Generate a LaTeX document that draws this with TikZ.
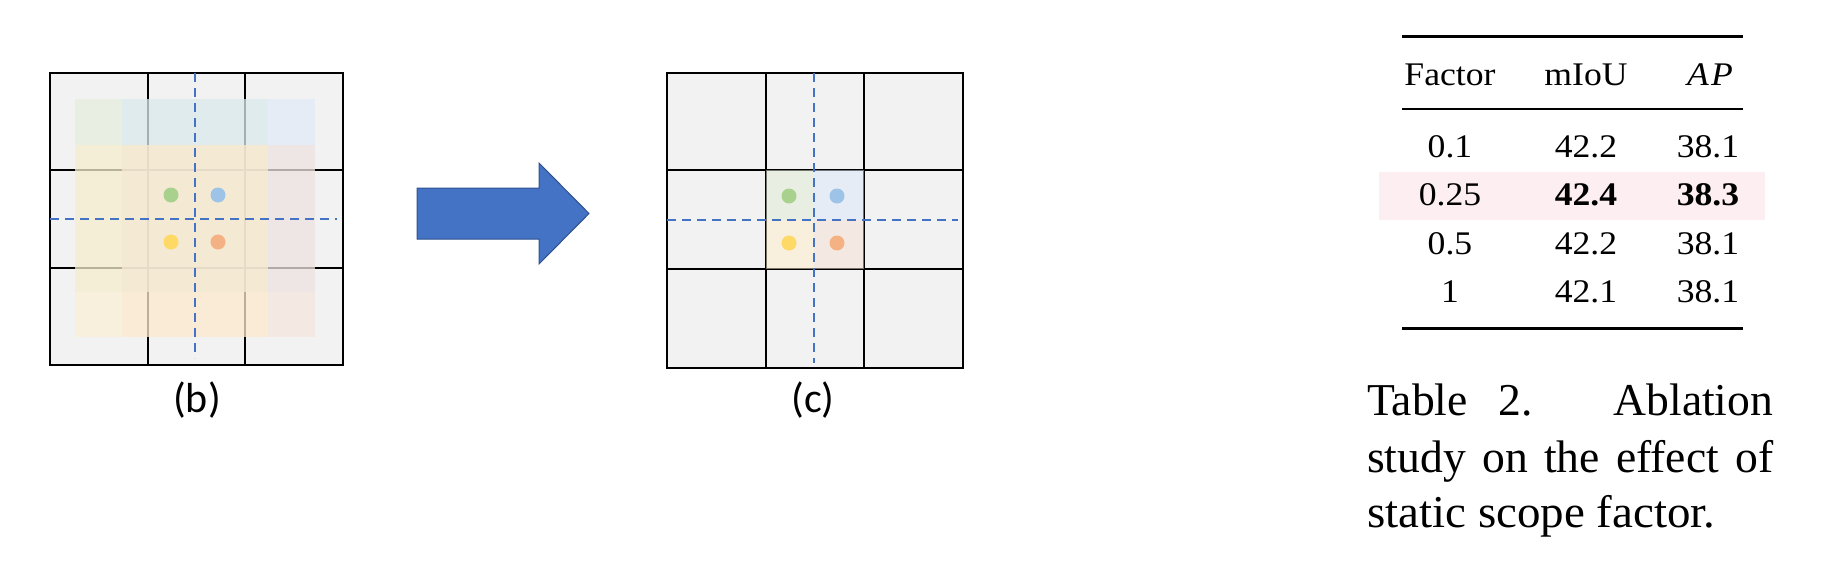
\documentclass[tikz,border=0pt]{standalone}
\usepackage{fontspec}
\usepackage{graphicx}
\setmainfont{Liberation Serif}
\newfontfamily\carlitofont{Carlito}
\definecolor{bggray}{HTML}{F2F2F2}
\definecolor{dblue}{HTML}{4472C4}
\definecolor{darrow}{HTML}{2F528F}
\definecolor{sG}{HTML}{E0EED4}
\definecolor{sB}{HTML}{DAE8F8}
\definecolor{sY}{HTML}{FEEECA}
\definecolor{sO}{HTML}{F6E2D4}
\definecolor{dG}{HTML}{A9D18E}
\definecolor{dB}{HTML}{9DC3E6}
\definecolor{dY}{HTML}{FFD966}
\definecolor{dO}{HTML}{F4B183}
\definecolor{pinkrow}{HTML}{FDEEF2}
\newcommand{\tabtxt}[1]{\scalebox{1.08}[1]{#1}}
\begin{document}
\begin{tikzpicture}[x=1pt,y=-1pt,
  gridline/.style={line width=2.6pt, draw=black},
  dashline/.style={draw=dblue, line width=2.6pt, dash pattern=on 9pt off 6pt},
  scopebox/.style={fill=#1, fill opacity=0.5},
  dot/.style={circle, inner sep=0pt, minimum size=15pt, fill=#1},
  bigarrow/.style={fill=dblue, draw=darrow, line width=1pt},
  tab/.style={anchor=base, font=\fontsize{33}{40}\selectfont, inner sep=0pt},
  capt/.style={anchor=base west, font=\fontsize{45.6}{56}\selectfont, inner sep=0pt},
  lab/.style={anchor=base, font=\carlitofont\fontsize{42}{48}\selectfont, inner sep=0pt},
  toprule/.style={line width=3pt},
  midrule/.style={line width=2pt}]
\useasboundingbox (0,0) rectangle (1822,570);

% ---------- grid (b) ----------
\fill[bggray] (50,73) rectangle (343,365);
\draw[gridline] (148,73) -- (148,365) (245,73) -- (245,365)
                (50,170) -- (343,170) (50,268) -- (343,268);
\draw[gridline] (50,73) rectangle (343,365);
\fill[scopebox=sG] (75,99) rectangle (268,292);
\fill[scopebox=sB] (122,99) rectangle (315,292);
\fill[scopebox=sO] (122,145) rectangle (315,337);
\fill[scopebox=sY] (75,145) rectangle (268,337);
\coordinate (bvt) at (195,73);
\coordinate (bvb) at (195,358);
\coordinate (bhl) at (50,219);
\coordinate (bhr) at (337,219);
\draw[dashline] (bvt) -- (bvb);
\draw[dashline] (bhl) -- (bhr);
\node[dot=dG] (bG) at (171,195) {};
\node[dot=dB] (bB) at (218,195) {};
\node[dot=dY] (bY) at (171,242) {};
\node[dot=dO] (bO) at (218,242) {};
\node[lab] (labb) at (197,412) {(b)};

% ---------- arrow ----------
\draw[bigarrow] (417,188) -- (539,188) -- (539,163) -- (589,213.5) -- (539,264) -- (539,239) -- (417,239) -- cycle;

% ---------- grid (c) ----------
\fill[bggray] (667,73) rectangle (963,368);
\draw[gridline] (766,73) -- (766,368) (864,73) -- (864,368)
                (667,170) -- (963,170) (667,269) -- (963,269);
\draw[gridline] (667,73) rectangle (963,368);
\fill[scopebox=sG] (766,170) rectangle (814,220);
\fill[scopebox=sB] (814,170) rectangle (864,220);
\fill[scopebox=sY] (766,220) rectangle (814,269);
\fill[scopebox=sO] (814,220) rectangle (864,269);
\coordinate (cvt) at (814,73);
\coordinate (cvb) at (814,363);
\coordinate (chl) at (667,220);
\coordinate (chr) at (958,220);
\draw[dashline] (cvt) -- (cvb);
\draw[dashline] (chl) -- (chr);
\node[dot=dG] (cG) at (789,196) {};
\node[dot=dB] (cB) at (837,196) {};
\node[dot=dY] (cY) at (789,243) {};
\node[dot=dO] (cO) at (837,243) {};
\node[lab] (labc) at (813,412) {(c)};

% ---------- table ----------
\fill[pinkrow] (1379,172) rectangle (1765,220);
\draw[toprule] (1402,36) -- (1743,36);
\draw[midrule] (1402,109) -- (1743,109);
\draw[toprule] (1402,328) -- (1743,328);
\node[tab] (h1) at (1450,85) {\tabtxt{Factor}};
\node[tab] (h2) at (1586,85) {\tabtxt{mIoU}};
\node[tab] (h3) at (1710,85) {\tabtxt{\itshape A\kern2pt P}};
\node[tab] (r11) at (1450,157) {\tabtxt{0.1}};
\node[tab] (r12) at (1586,157) {\tabtxt{42.2}};
\node[tab] (r13) at (1708,157) {\tabtxt{38.1}};
\node[tab] (r21) at (1450,205) {\tabtxt{0.25}};
\node[tab] (r22) at (1586,205) {\tabtxt{\bfseries 42.4}};
\node[tab] (r23) at (1708,205) {\tabtxt{\bfseries 38.3}};
\node[tab] (r31) at (1450,254) {\tabtxt{0.5}};
\node[tab] (r32) at (1586,254) {\tabtxt{42.2}};
\node[tab] (r33) at (1708,254) {\tabtxt{38.1}};
\node[tab] (r41) at (1450,302) {\tabtxt{1}};
\node[tab] (r42) at (1586,302) {\tabtxt{42.1}};
\node[tab] (r43) at (1708,302) {\tabtxt{38.1}};

% ---------- caption ----------
\node[capt] (cap1) at (1367,415) {\hbox to 406pt{Table\hspace{31pt}2.\hfill Ablation}};
\node[capt] (cap2) at (1367,472) {\hbox to 406pt{study on the effect of}};
\node[capt] (cap3) at (1367,527) {\scalebox{1.03}[1]{static scope factor.}};
\end{tikzpicture}
\end{document}
